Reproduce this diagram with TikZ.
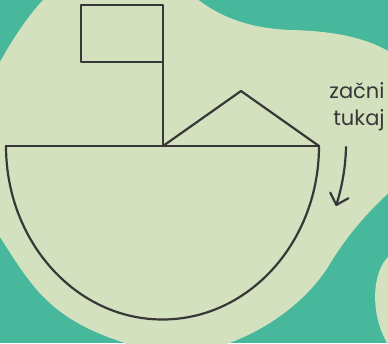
\documentclass[tikz,border=0pt]{standalone}
\usepackage{fontspec}
\setmainfont{Poppins}
\usetikzlibrary{arrows.meta}
\definecolor{tuerkis}{HTML}{47B89B}
\definecolor{hellgruen}{HTML}{D4E1BE}
\definecolor{tinte}{HTML}{383838}
\begin{document}
\begin{tikzpicture}[x=1pt, y=1pt,
    linie/.style={tinte, line width=2.2pt, line cap=round, line join=round},
    pfeil/.style={linie, -{Straight Barb[length=10pt, width=19pt, line cap=round, line join=round]}},
    schrift/.style={text=tinte, font=\fontsize{21}{27}\selectfont, inner sep=0pt, anchor=base}]
    % Hintergrund
    \useasboundingbox (0,0) rectangle (388,343);
    \clip (0,0) rectangle (388,343);
    \fill[tuerkis] (0,0) rectangle (388,343);
    \fill[hellgruen] (0,281) .. controls (12,303) and (28,327) .. (43,343)
        -- (43,350) -- (190,350) .. controls (215,328) and (245,315) .. (290,313)
        .. controls (330,312) and (365,307) .. (395,288)
        -- (400,288) -- (400,160) .. controls (370,135) and (345,105) .. (328,76)
        .. controls (308,45) and (270,12) .. (215,-5)
        -- (125,-5) -- (125,0) .. controls (50,24) and (32,56) .. (0,106)
        -- (-5,106) -- (-5,281) -- cycle;
    \fill[hellgruen] (400,95) -- (388,86) .. controls (372,70) and (370,30) .. (387,0)
        -- (400,-5) -- cycle;

    % Punkte des Schiffs
    \coordinate (links) at (6,197);
    \coordinate (mitte) at (163,197);
    \coordinate (rechts) at (319,197);
    \coordinate (spitze) at (241,252);
    \coordinate (mast) at (163,281);
    \coordinate (fahne) at (81,338);

    % Rumpf
    \draw[linie] (links) -- (rechts);
    \draw[linie] (links) arc[start angle=180, end angle=360, x radius=156.5, y radius=173.5];

    % Segel und Fahne
    \draw[linie] (mitte) -- (spitze) -- (rechts);
    \draw[linie] (mitte) -- (mast);
    \draw[linie] (mast) rectangle (fahne);

    % Hinweis
    \node[schrift] (zacni) at (357,244) {začni};
    \node[schrift] (tukaj) at (359,217) {tukaj};
    \coordinate (start) at (346,196);
    \coordinate (ende) at (336,137);
    \draw[pfeil] (start) .. controls (345.5,173) and (341,153) .. (ende);
\end{tikzpicture}
\end{document}
